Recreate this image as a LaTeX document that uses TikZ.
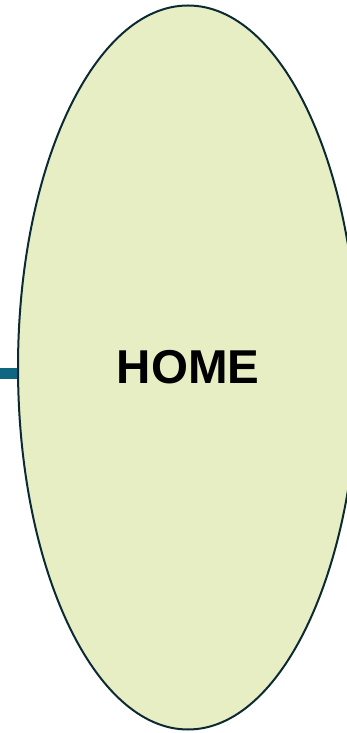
\documentclass[tikz,border=0pt]{standalone}
\usepackage{fontspec}
\setmainfont{Liberation Sans}
\usetikzlibrary{shapes.geometric}
\definecolor{efill}{HTML}{E8EEC4}
\definecolor{edraw}{HTML}{0B2A33}
\definecolor{stubc}{HTML}{0E6680}
\tikzset{
  homeell/.style={ellipse, draw=edraw, fill=efill, line width=2pt, inner sep=0pt,
    minimum width=340pt, minimum height=724pt,
    font=\fontsize{47.5}{50}\selectfont\bfseries},
  stubline/.style={draw=stubc, line width=11pt}
}
\begin{document}
\begin{tikzpicture}[x=1pt,y=1pt]
\useasboundingbox (0,0) rectangle (347,733);
\node[homeell] (e) at (188,365.5) {HOME};
\coordinate (s) at (0,359.5);
\draw[stubline] (s) -- (s -| e.west);
\end{tikzpicture}
\end{document}
